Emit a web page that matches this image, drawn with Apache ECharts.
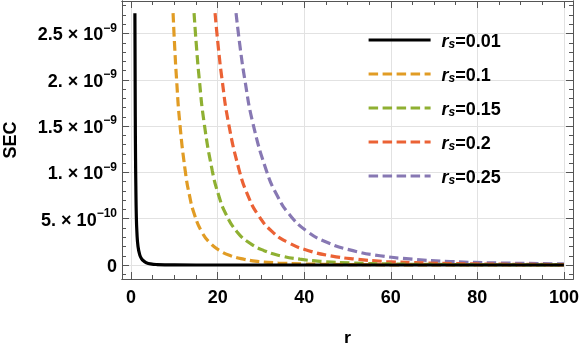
<!DOCTYPE html>
<html>
<head>
<meta charset="utf-8">
<script src="https://cdn.jsdelivr.net/npm/echarts@6/dist/echarts.min.js"></script>
<style>
    html, body { margin: 0; padding: 0; background: #fff; }
    #main { width: 580px; height: 343px; }
</style>
</head>
<body>
<div id="main"></div>
<script>
    // SEC values are in units of 1e-9: [r, SEC]
    var rs001 = [[0.88, 2.72], [0.92, 2.2], [0.97, 1.6], [1.03, 1.15], [1.1, 0.85], [1.2, 0.55],
        [1.35, 0.35], [1.6, 0.2], [2.0, 0.11], [2.4, 0.07], [3.0, 0.04], [3.5, 0.025], [4.5, 0.012],
        [6, 0.005], [10, 0.001], [20, 0.0002], [50, 0], [100, 0]];
    var rs010 = [[9.7, 2.72], [10.1, 2.33], [10.5, 2.01], [11.2, 1.56], [12.5, 1.02], [13.5, 0.75],
        [14.6, 0.55], [16.3, 0.36], [18.2, 0.24], [20.5, 0.155], [23, 0.1], [26, 0.063], [29.5, 0.038],
        [34, 0.022], [40, 0.0115], [50, 0.0048], [60, 0.0023], [75, 0.001], [100, 0.0003]];
    var rs015 = [[14.55, 2.72], [15.15, 2.33], [15.75, 2.01], [16.8, 1.56], [18.75, 1.02], [20.25, 0.75],
        [21.9, 0.55], [24.45, 0.36], [27.3, 0.24], [30.75, 0.155], [34.5, 0.1], [39, 0.063],
        [44.25, 0.038], [51, 0.022], [60, 0.0115], [75, 0.0048], [90, 0.0023], [100, 0.0015]];
    var rs020 = [[19.4, 2.72], [20.2, 2.33], [21, 2.01], [22.4, 1.56], [25, 1.02], [27, 0.75],
        [29.2, 0.55], [32.6, 0.36], [36.4, 0.24], [41, 0.155], [46, 0.1], [52, 0.063], [59, 0.038],
        [68, 0.022], [80, 0.0115], [100, 0.0048]];
    var rs025 = [[24.25, 2.72], [25.25, 2.33], [26.25, 2.01], [28, 1.56], [31.25, 1.02], [33.75, 0.75],
        [36.5, 0.55], [40.75, 0.36], [45.5, 0.24], [51.25, 0.155], [57.5, 0.1], [65, 0.063],
        [73.75, 0.038], [85, 0.022], [100, 0.013]];

    var seriesNames = ['0.01', '0.1', '0.15', '0.2', '0.25'];
    var seriesData = [rs001, rs010, rs015, rs020, rs025];
    var colors = ['#000000', '#E19C24', '#8FB032', '#EB6235', '#8778B3'];

    var xTicks = [0, 20, 40, 60, 80, 100];
    var yTicks = [0, 0.5, 1, 1.5, 2, 2.5];
    var yMant = ['0', '5.', '1.', '1.5', '2.', '2.5'];
    var yExp = ['', '\u221210', '\u22129', '\u22129', '\u22129', '\u22129'];

    var xMin = -2.1, xMax = 102.1, yMin = -0.151, yMax = 2.851;

    var xMinor = [], yMinor = [];
    for (var i = 5; i < 102; i += 5) if (i % 20) xMinor.push(i);
    for (var j = -1; j <= 28; j++) if (j % 5) yMinor.push(j / 10);

    var frame = '#555';
    var bold = {fontFamily: 'Liberation Sans', fontWeight: 'bold', color: '#000'};

    function axisX(pos, ticks, len, labels) {
        return {
            type: 'value', position: pos, min: xMin, max: xMax,
            axisLine: {show: true, onZero: false, lineStyle: {color: frame, width: 1}},
            axisTick: {show: true, inside: true, length: len, customValues: ticks, lineStyle: {color: frame}},
            axisLabel: labels ? Object.assign({show: true, customValues: ticks, fontSize: 18, margin: 10}, bold) : {show: false},
            splitLine: {show: !!labels, lineStyle: {color: '#e2e2e2', width: 1}}
        };
    }
    function axisY(pos, ticks, len, labels) {
        return {
            type: 'value', position: pos, min: yMin, max: yMax,
            axisLine: {show: true, onZero: false, lineStyle: {color: frame, width: 1}},
            axisTick: {show: true, inside: true, length: len, customValues: ticks, lineStyle: {color: frame}},
            axisLabel: labels ? {
                show: true, customValues: ticks, margin: 5,
                formatter: function (v) {
                    var k = yTicks.indexOf(Math.round(v * 10) / 10);
                    if (k < 0) return '';
                    if (!yExp[k]) return '{m|' + yMant[k] + '}';
                    return '{m|' + yMant[k] + ' \u00d7 10}{e|' + yExp[k] + '}';
                },
                rich: {
                    m: Object.assign({fontSize: 18, lineHeight: 22, verticalAlign: 'bottom'}, bold),
                    e: Object.assign({fontSize: 12, lineHeight: 12, verticalAlign: 'top'}, bold)
                }
            } : {show: false},
            splitLine: {show: !!labels, lineStyle: {color: '#e2e2e2', width: 1}}
        };
    }

    var xAxes = [axisX('bottom', xTicks, 7, true), axisX('bottom', xMinor, 4, false),
        axisX('top', xTicks, 7, false), axisX('top', xMinor, 4, false)];
    xAxes[0].name = 'r';
    xAxes[0].nameLocation = 'middle';
    xAxes[0].nameGap = 51;
    xAxes[0].nameTextStyle = Object.assign({fontSize: 18}, bold);

    var yAxes = [axisY('left', yTicks, 7, true), axisY('left', yMinor, 4, false),
        axisY('right', yTicks, 7, false), axisY('right', yMinor, 4, false)];
    yAxes[0].name = 'SEC';
    yAxes[0].nameLocation = 'middle';
    yAxes[0].nameRotate = 90;
    yAxes[0].nameGap = 102;
    yAxes[0].nameTextStyle = Object.assign({fontSize: 18}, bold);

    var series = seriesData.map(function (d, k) {
        return {
            name: seriesNames[k],
            type: 'line',
            data: d,
            symbol: 'none',
            smooth: 0.5,
            z: 10 - k,
            lineStyle: {color: colors[k], width: 3.2, type: k === 0 ? 'solid' : [9.5, 4.5], cap: 'butt'},
            itemStyle: {color: colors[k]}
        };
    });

    var chart = echarts.init(document.getElementById('main'), null, {renderer: 'canvas'});
    chart.setOption({
        animation: false,
        grid: {left: 122, top: 1, width: 451, height: 278, outerBoundsMode: 'none', containLabel: false},
        legend: {
            orient: 'vertical',
            left: 367, top: 33, padding: 0,
            itemWidth: 62, itemHeight: 14, itemGap: 16,
            data: seriesNames,
            itemStyle: {opacity: 0},
            lineStyle: {width: 3.2},
            formatter: function (n) { return '{i|r}{s|s}{t|=' + n + '}'; },
            textStyle: {
                padding: [0, 0, 0, 6],
                rich: {
                    i: Object.assign({fontSize: 18, fontStyle: 'italic', lineHeight: 22, verticalAlign: 'bottom'}, bold),
                    s: Object.assign({fontSize: 12, fontStyle: 'italic', lineHeight: 12, verticalAlign: 'bottom'}, bold),
                    t: Object.assign({fontSize: 18, lineHeight: 22, verticalAlign: 'bottom'}, bold)
                }
            }
        },
        xAxis: xAxes,
        yAxis: yAxes,
        series: series
    });
</script>
</body>
</html>
